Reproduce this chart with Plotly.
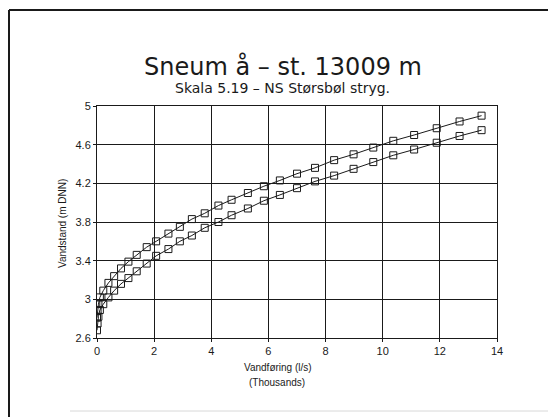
import plotly.graph_objects as go

# Discharge (thousands l/s) - shared by both curves
discharge = [0.0, 0.02, 0.05, 0.10, 0.22, 0.40, 0.60, 0.84, 1.10, 1.39, 1.74, 2.07,
             2.50, 2.90, 3.32, 3.77, 4.25, 4.71, 5.28, 5.84, 6.40, 7.00, 7.63, 8.30,
             8.98, 9.67, 10.37, 11.10, 11.89, 12.69, 13.46]
# Stage (m DNN)
stage_upper = [2.81, 2.88, 2.95, 3.02, 3.09, 3.17, 3.24, 3.32, 3.39, 3.46, 3.54, 3.60,
               3.68, 3.75, 3.83, 3.89, 3.97, 4.03, 4.10, 4.17, 4.23, 4.30, 4.36, 4.44,
               4.50, 4.57, 4.64, 4.70, 4.77, 4.84, 4.90]
stage_lower = [2.68, 2.75, 2.82, 2.89, 2.95, 3.02, 3.09, 3.16, 3.22, 3.29, 3.37, 3.45,
               3.52, 3.60, 3.66, 3.74, 3.80, 3.87, 3.94, 4.02, 4.08, 4.15, 4.22, 4.28,
               4.35, 4.42, 4.49, 4.55, 4.62, 4.69, 4.75]

x_ticks = [0, 2, 4, 6, 8, 10, 12, 14]
y_ticks = [2.6, 3.0, 3.4, 3.8, 4.2, 4.6, 5.0]
y_tick_labels = ["2.6", "3", "3.4", "3.8", "4.2", "4.6", "5"]

FONT = "Liberation Sans"
TFONT = "DejaVu Sans"
INK = "#1a1a1a"

fig = go.Figure()
for ys in (stage_upper, stage_lower):
    fig.add_trace(go.Scatter(
        x=discharge, y=ys, mode="lines+markers",
        line=dict(color=INK, width=1),
        marker=dict(symbol="square-open", size=7, color=INK, line=dict(width=1)),
        showlegend=False, hoverinfo="skip"))

# page body has an 8px margin, so the figure is shrunk by that offset
OFF = 8
W, H = 556 - OFF, 417 - OFF
L, R, T, B = 97 - OFF, 59, 106 - OFF, 79
pw, ph = W - L - R, H - T - B

def px(xp):
    return (xp - OFF - L) / pw

def py(yp):
    return (H - B - (yp - OFF)) / ph

axis_common = dict(showgrid=True, gridcolor=INK, gridwidth=1, showline=True,
                   linecolor=INK, linewidth=1, mirror=True, ticks="outside",
                   ticklen=3, tickcolor=INK, zeroline=False,
                   tickfont=dict(family=FONT, size=11, color=INK))

fig.update_xaxes(range=[0, 14], tickvals=x_ticks, **axis_common)
fig.update_yaxes(range=[2.6, 5.0], tickvals=y_ticks, ticktext=y_tick_labels, **axis_common)

annotations = [
    dict(text="Sneum å – st. 13009 m", x=px(283), y=py(66.5), font=dict(size=24, family=TFONT)),
    dict(text="Skala 5.19 – NS Størsbøl stryg.", x=px(282), y=py(88), font=dict(size=14, family=TFONT)),
    dict(text="Vandstand (m DNN)", x=px(62), y=py(224), textangle=-90, font=dict(size=10, family=FONT)),
    dict(text="Vandføring (l/s)", x=px(278), y=py(367), font=dict(size=10, family=FONT)),
    dict(text="(Thousands)", x=px(277), y=py(382), font=dict(size=10, family=FONT)),
]
for a in annotations:
    a.update(xref="paper", yref="paper", showarrow=False, xanchor="center", yanchor="middle")
    a["font"].update(color=INK)
    fig.add_annotation(**a)

shapes = [
    dict(type="line", x0=px(9), x1=px(556), y0=py(10), y1=py(10), line=dict(color=INK, width=2)),
    dict(type="line", x0=px(9), x1=px(9), y0=py(10), y1=py(417), line=dict(color=INK, width=2)),
    dict(type="line", x0=px(70), x1=px(556), y0=py(411), y1=py(411), line=dict(color="#d8d8d8", width=1)),
]
for s in shapes:
    s.update(xref="paper", yref="paper")
    fig.add_shape(**s)

fig.update_layout(width=W, height=H, margin=dict(l=L, r=R, t=T, b=B),
                  paper_bgcolor="white", plot_bgcolor="white")

fig.write_html("out.html")
